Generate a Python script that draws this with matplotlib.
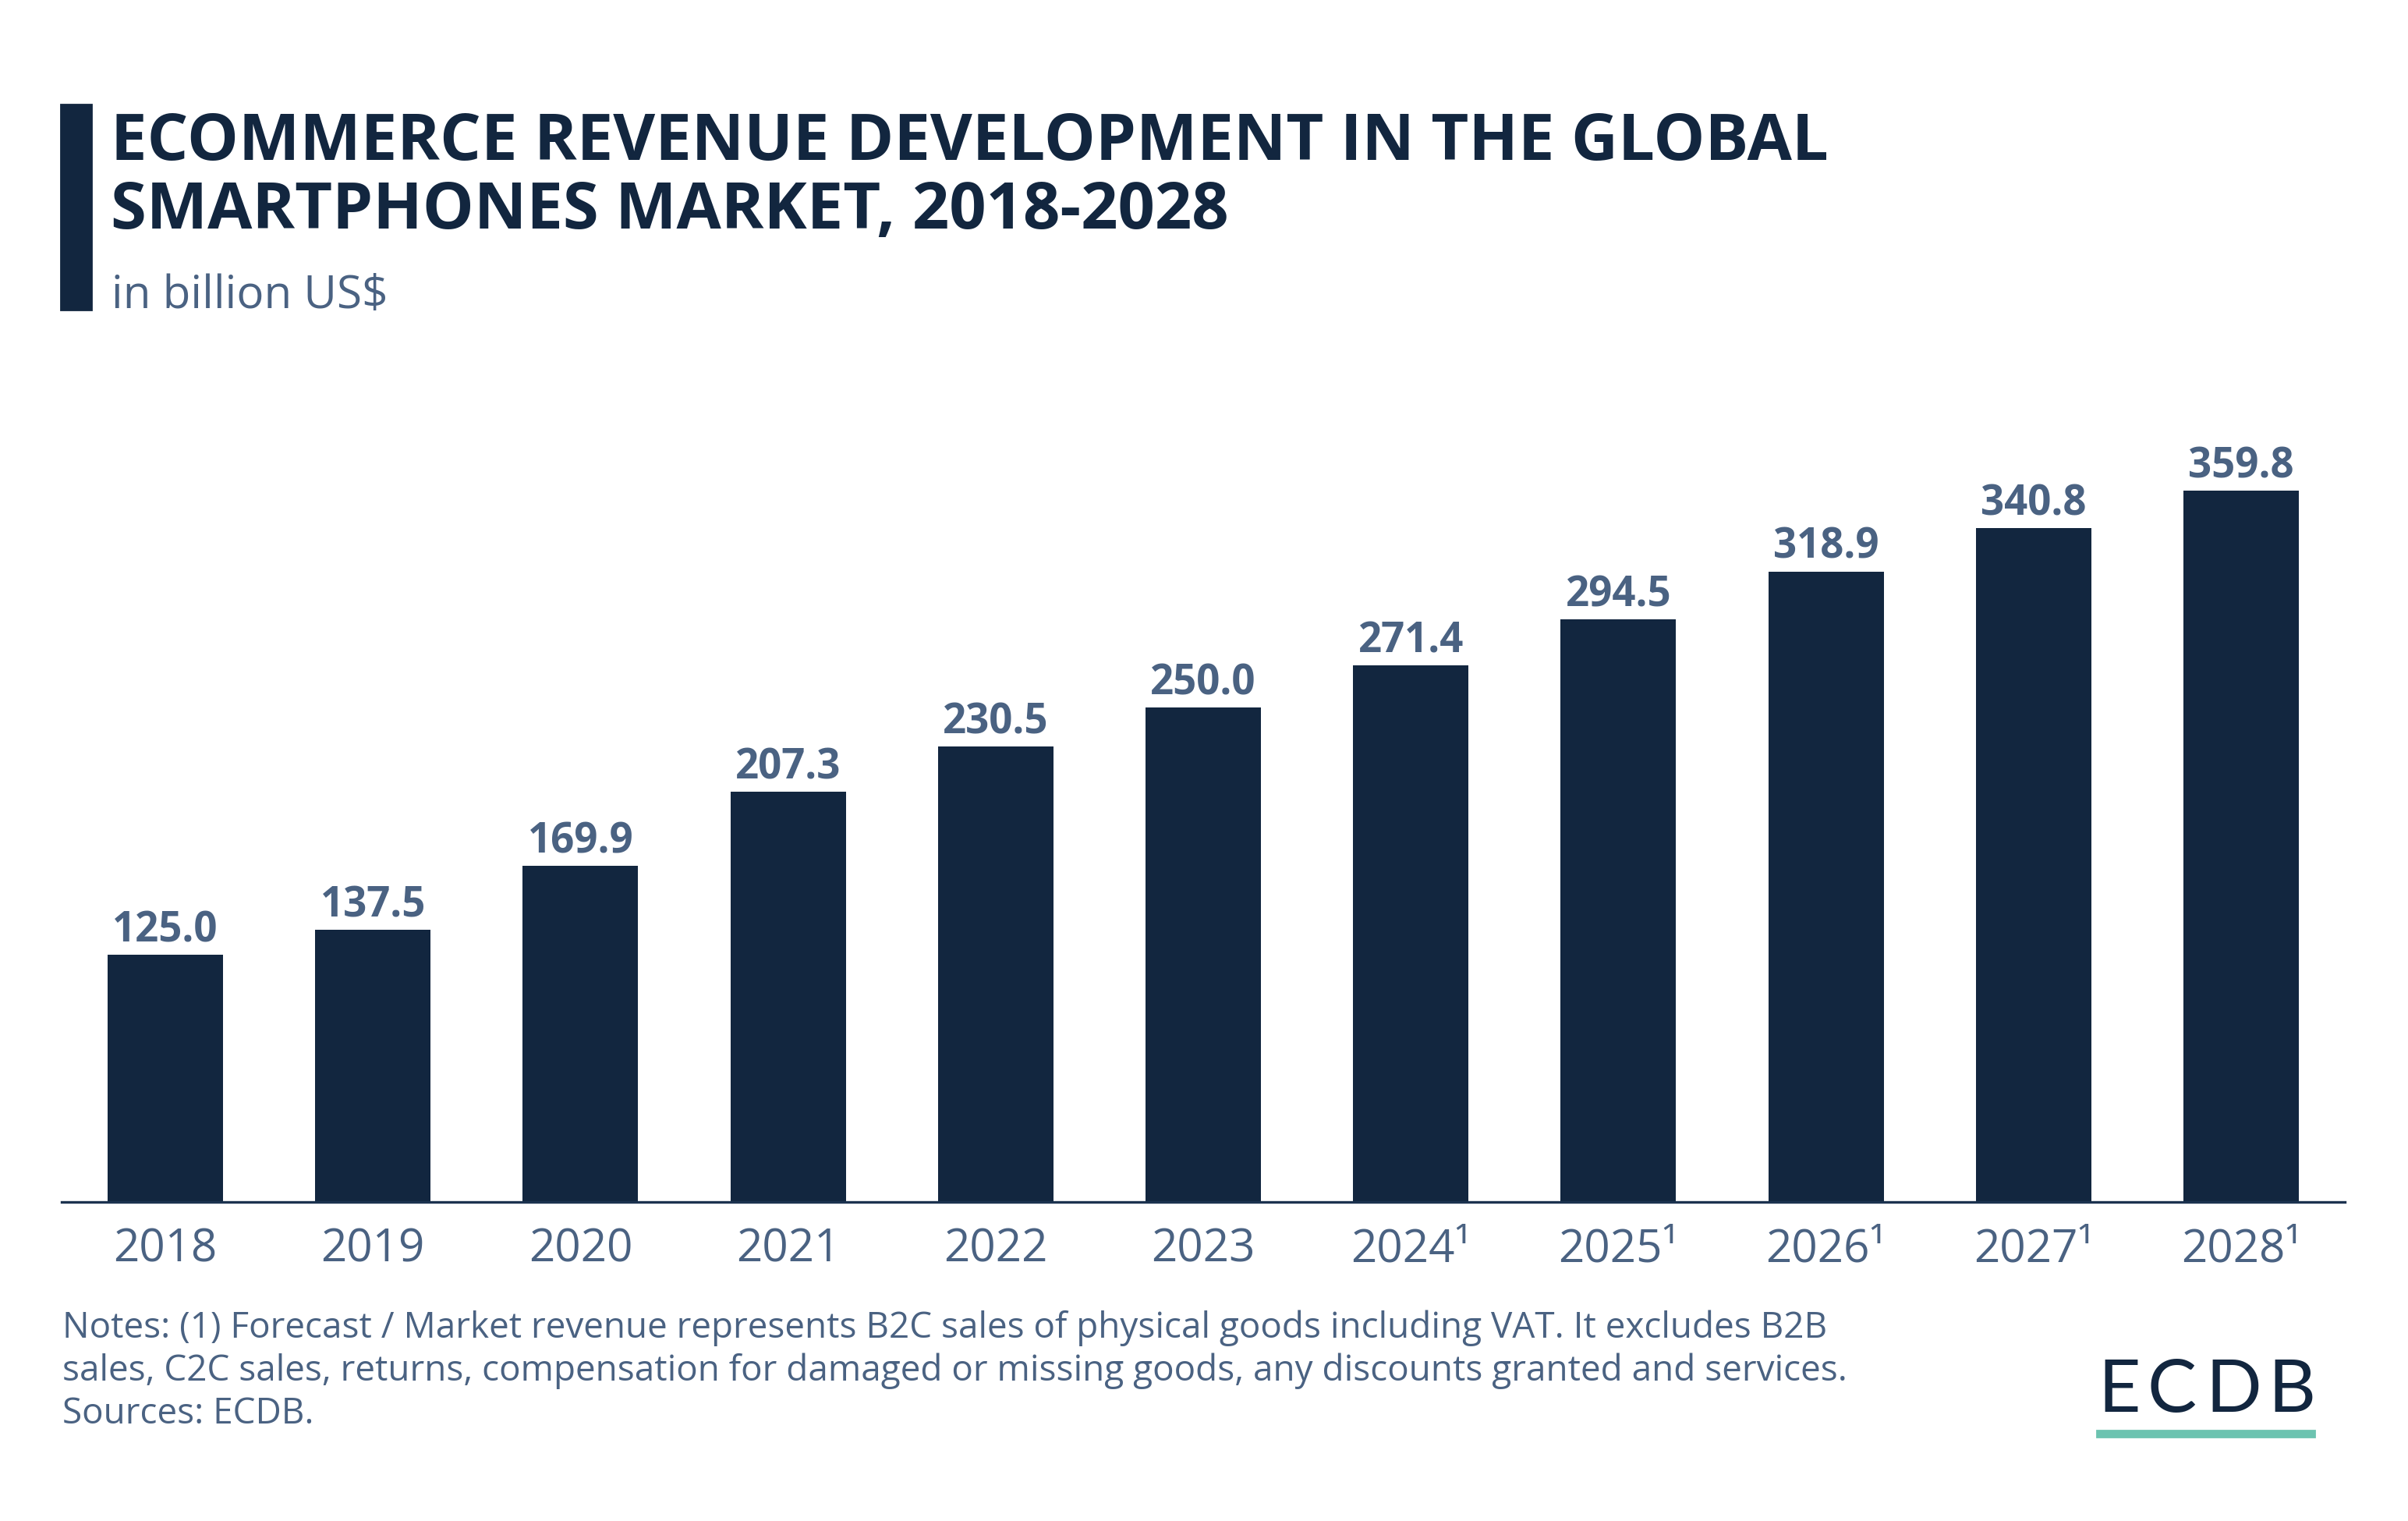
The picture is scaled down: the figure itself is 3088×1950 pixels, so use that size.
import matplotlib
matplotlib.use("Agg")
import matplotlib.pyplot as plt
from matplotlib.patches import Rectangle

# ---- data ----
years = ["2018", "2019", "2020", "2021", "2022", "2023",
         "2024¹", "2025¹", "2026¹", "2027¹", "2028¹"]
revenue = [125.0, 137.5, 169.9, 207.3, 230.5, 250.0,
           271.4, 294.5, 318.9, 340.8, 359.8]

title_lines = ["ECOMMERCE REVENUE DEVELOPMENT IN THE GLOBAL",
               "SMARTPHONES MARKET, 2018-2028"]
subtitle = "in billion US$"
notes = ["Notes: (1) Forecast / Market revenue represents B2C sales of physical goods including VAT. It excludes B2B",
         "sales, C2C sales, returns, compensation for damaged or missing goods, any discounts granted and services.",
         "Sources: ECDB."]
logo_letters = ["E", "C", "D", "B"]

# ---- style ----
NAVY = "#12263f"
SLATE = "#4a6282"
TEAL = "#6cc3b0"
FONT = ["Open Sans", "DejaVu Sans"]
plt.rcParams["font.family"] = FONT

W, H, DPI = 3088, 1950, 200
fig = plt.figure(figsize=(W / DPI, H / DPI), dpi=DPI)
fig.patch.set_facecolor("white")

def fx(px):
    return px / W

def fy(py):
    return 1 - py / H

# axes: x from 79 to 3007 px, bottom at 1541 px, top at 540 px
ax = fig.add_axes([fx(79), fy(1541), fx(3007 - 79), (1541 - 540) / H])
x = list(range(len(years)))
ax.bar(x, revenue, width=0.556, color=NAVY, zorder=2)
ax.set_xlim(-0.5, len(years) - 0.5)
ax.set_ylim(0, 1001 / 2.535)
ax.set_yticks([])
for s in ["top", "right", "left"]:
    ax.spines[s].set_visible(False)
ax.spines["bottom"].set_color("#1c3350")
ax.spines["bottom"].set_linewidth(1.2)
ax.set_xticks(x)
ax.set_xticklabels(years, fontsize=21, color=SLATE)
ax.tick_params(axis="x", length=0, pad=11.5)

for xi, v in zip(x, revenue):
    ax.annotate(f"{v:.1f}", xy=(xi, v), xytext=(0, 6), textcoords="offset points",
                ha="center", va="baseline", fontsize=19, fontweight="bold",
                color=SLATE)

# title bar
fig.patches.append(Rectangle((fx(78), fy(397)), fx(39), (397 - 134) / H,
                             transform=fig.transFigure, color=NAVY, zorder=3))

fig.text(fx(142), fy(205), title_lines[0], fontsize=29.9, fontweight="bold",
         color=NAVY, va="baseline", ha="left")
fig.text(fx(142), fy(293), title_lines[1], fontsize=29.9, fontweight="bold",
         color=NAVY, va="baseline", ha="left")
fig.text(fx(143), fy(395), subtitle, fontsize=21, color=SLATE,
         va="baseline", ha="left")

note_baselines = [1715, 1770, 1825]
for line, b in zip(notes, note_baselines):
    fig.text(fx(80), fy(b), line, fontsize=16.5, color=SLATE,
             va="baseline", ha="left")

# logo
logo_centers = [2718, 2785, 2864, 2939]
for ch, cx in zip(logo_letters, logo_centers):
    fig.text(fx(cx), fy(1810), ch, fontsize=34, color=NAVY,
             va="baseline", ha="center", family=["Lato", "DejaVu Sans"])
fig.patches.append(Rectangle((fx(2689), fy(1842)), fx(2968 - 2689), 8 / H,
                             transform=fig.transFigure, color=TEAL, zorder=3))

fig.savefig("out.png", dpi=DPI, facecolor="white")
